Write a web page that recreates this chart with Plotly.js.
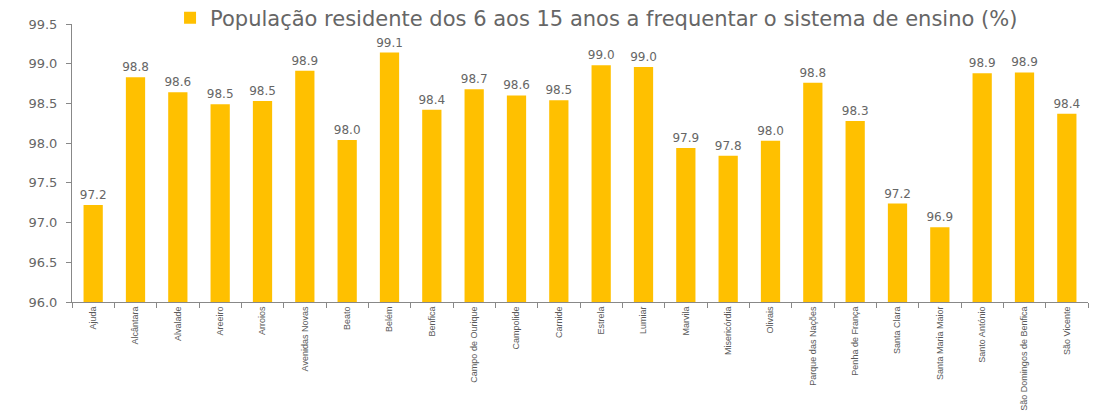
<!DOCTYPE html>
<html>
<head>
<meta charset="utf-8">
<script src="https://cdn.plot.ly/plotly-3.0.1.min.js"></script>
<style>html,body{margin:0;padding:0;background:#fff;}#chart{width:1109px;height:415px;}</style>
</head>
<body>
<div id="chart"></div>
<script>
const categories = ["Ajuda","Alcântara","Alvalade","Areeiro","Arroios","Avenidas Novas","Beato","Belém","Benfica","Campo de Ourique","Campolide","Carnide","Estrela","Lumiar","Marvila","Misericórdia","Olivais","Parque das Nações","Penha de França","Santa Clara","Santa Maria Maior","Santo António","São Domingos de Benfica","São Vicente"];
const values = [97.22,98.83,98.64,98.49,98.53,98.91,98.04,99.14,98.42,98.68,98.60,98.54,98.98,98.96,97.94,97.84,98.03,98.76,98.28,97.24,96.94,98.88,98.89,98.37];
const seriesName = "População residente dos 6 aos 15 anos a frequentar o sistema de ensino (%)";
const yTicks = [96.0,96.5,97.0,97.5,98.0,98.5,99.0,99.5];

const trace = {
  type: 'bar',
  x: categories,
  y: values,
  name: seriesName,
  marker: {color: '#FFC000'},
  texttemplate: '%{y:.1f}',
  textposition: 'outside',
  constraintext: 'none',
  cliponaxis: false,
  textfont: {family: 'DejaVu Sans', size: 12, color: '#666666'},
  hoverinfo: 'x+y'
};

const layout = {
  width: 1109, height: 415,
  margin: {l: 72, r: 21, t: 24, b: 113, autoexpand: false},
  paper_bgcolor: '#ffffff', plot_bgcolor: '#ffffff',
  bargap: 0.545,
  showlegend: true,
  legend: {
    orientation: 'h', x: 0.0965, xanchor: 'left', y: 1.0216, yanchor: 'middle',
    font: {family: 'DejaVu Sans', size: 21, color: '#666666'},
    bgcolor: 'rgba(0,0,0,0)'
  },
  xaxis: {
    type: 'category',
    tickangle: -90,
    tickfont: {family: 'Liberation Sans, sans-serif', size: 9, color: '#595959'},
    showline: true, linecolor: '#888888', linewidth: 1,
    ticks: 'outside', tickson: 'boundaries', ticklen: 5, tickcolor: '#888888',
    showgrid: false, zeroline: false
  },
  yaxis: {
    range: [96, 99.5],
    tickvals: yTicks,
    ticktext: yTicks.map(v => v.toFixed(1)),
    tickfont: {family: 'DejaVu Sans', size: 13, color: '#666666'},
    showline: true, linecolor: '#888888', linewidth: 1,
    ticks: 'outside', ticklen: 5, tickcolor: '#888888',
    showgrid: false, zeroline: false,
    ticklabelstandoff: 6
  }
};

Plotly.newPlot('chart', [trace], layout, {displayModeBar: false, staticPlot: true});
</script>
</body>
</html>
